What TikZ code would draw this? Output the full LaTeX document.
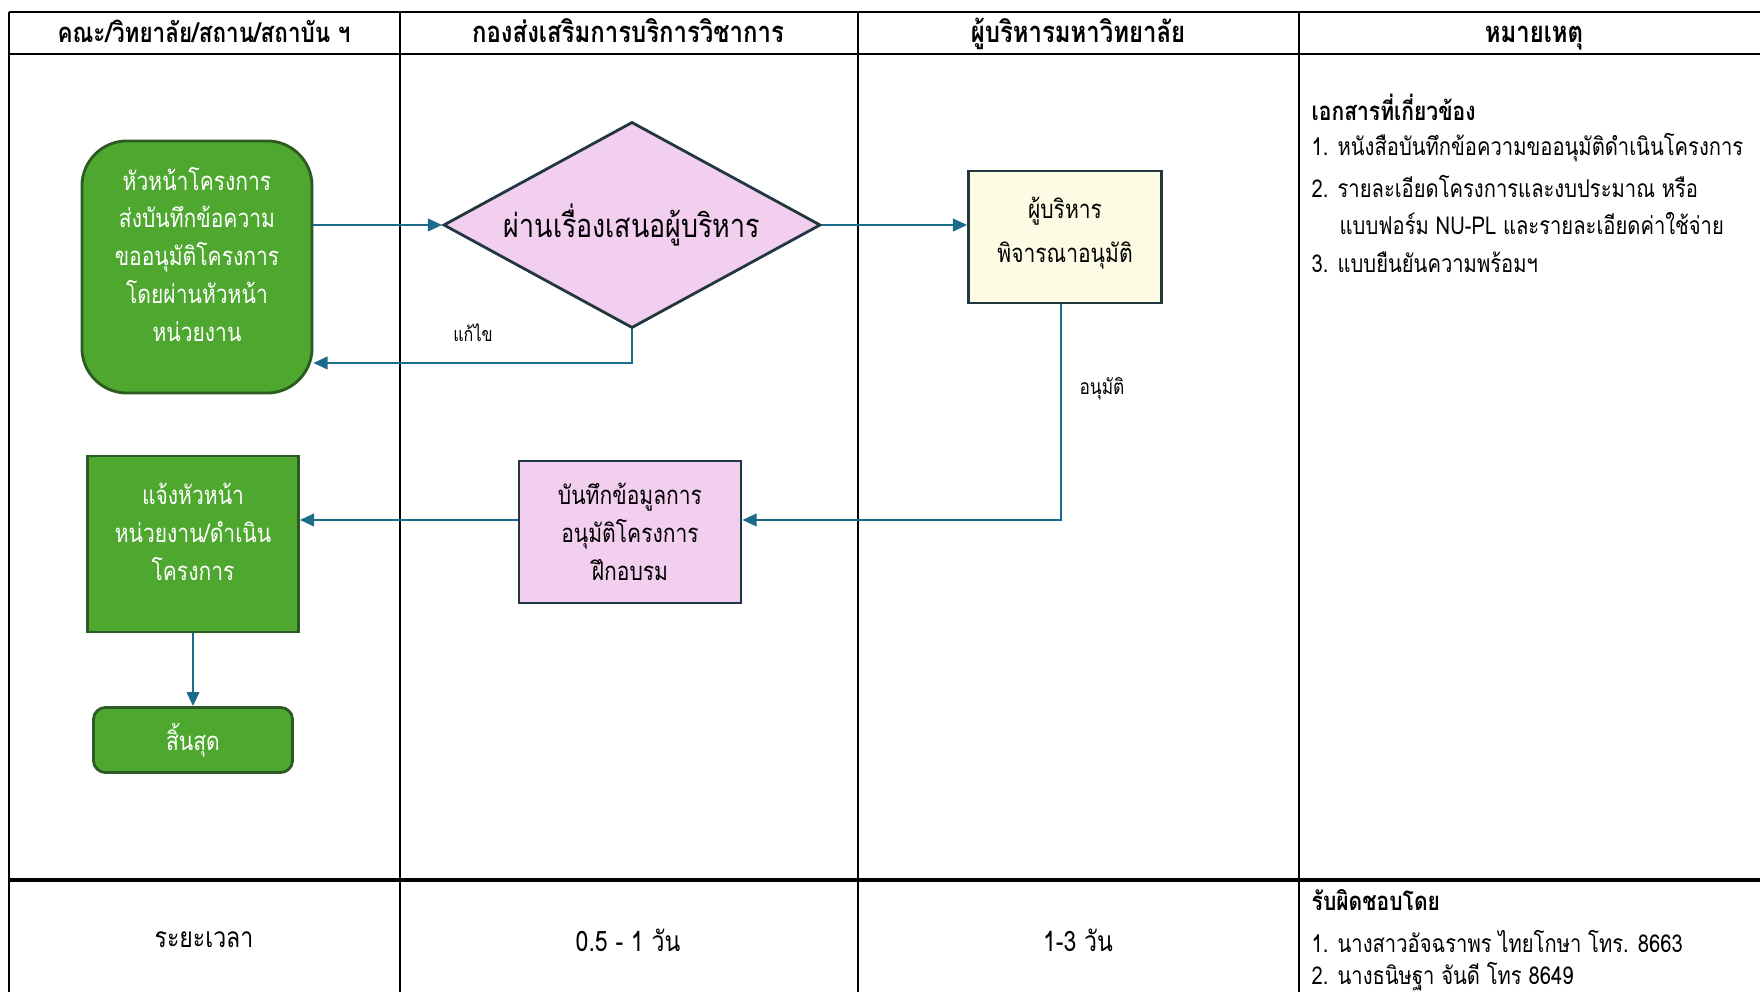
\documentclass[tikz,border=0pt]{standalone}
\usepackage{fontspec}
\setmainfont[Script=Thai, FakeStretch=0.82]{Loma}
\usepackage{xcolor}
\usetikzlibrary{shapes.geometric,arrows.meta,calc}

\definecolor{boxgreen}{HTML}{4EA72E}
\definecolor{greenline}{HTML}{2C5A22}
\definecolor{boxpink}{HTML}{F2CEEF}
\definecolor{boxyellow}{HTML}{FCFCE4}
\definecolor{boxline}{HTML}{233740}
\definecolor{flowblue}{HTML}{1C6A8C}

\begin{document}
\begin{tikzpicture}[x=0.01cm, y=-0.01cm,
    every node/.style={font=\fontsize{7.3}{10.8}\selectfont},
    greenbox/.style={draw=greenline, line width=0.8pt, fill=boxgreen, text=white, align=center, inner sep=0pt},
    colorbox/.style={draw=boxline, line width=0.8pt, align=center, inner sep=0pt},
    flow/.style={draw=flowblue, line width=0.55pt, -{Triangle[length=4pt,width=3.6pt]}},
    colhead/.style={anchor=base, font=\fontsize{8.3}{10}\selectfont\bfseries},
    head/.style={font=\fontsize{7.3}{10.8}\selectfont\bfseries},
    note/.style={anchor=west, inner sep=0pt, font=\fontsize{7}{10}\selectfont},
    span/.style={font=\fontsize{8}{10}\selectfont}]
    \useasboundingbox (0,0) rectangle (1760,992);

    % table
    \draw [line width=0.6pt] (9,12) -- (1760,12);
    \draw [line width=0.6pt] (9,54) -- (1760,54);
    \draw [line width=0.9pt] (9,880) -- (1760,880);
    \foreach \x in {9,400,858,1299}
        \draw [line width=0.4pt] (\x,12) -- (\x,992);

    \node [colhead, font=\fontsize{7.8}{10}\selectfont\bfseries] (h1) at (204,43) {คณะ/วิทยาลัย/สถาน/สถาบัน ฯ};
    \node [colhead] (h2) at (628,43) {กองส่งเสริมการบริการวิชาการ};
    \node [colhead] (h3) at (1078,43) {ผู้บริหารมหาวิทยาลัย};
    \node [colhead] (h4) at (1534,43) {หมายเหตุ};

    % flow
    \node [greenbox, rounded corners=0.45cm, minimum width=2.3cm, minimum height=2.52cm] (start) at (197,267)
        {หัวหน้าโครงการ\\ส่งบันทึกข้อความ\\ขออนุมัติโครงการ\\โดยผ่านหัวหน้า\\หน่วยงาน\\[-0.5em]};
    \node [colorbox, fill=boxpink, diamond, aspect=1.83, minimum width=3.77cm, minimum height=2.06cm,
        font=\fontsize{9.3}{11}\selectfont] (pass) at (632,225)
        {ผ่านเรื่องเสนอผู้บริหาร};
    \node [colorbox, fill=boxyellow, minimum width=1.93cm, minimum height=1.32cm] (exec) at (1065,237)
        {ผู้บริหาร\\[0.25em]พิจารณาอนุมัติ\\[-0.9em]};
    \node [colorbox, fill=boxpink, minimum width=2.22cm, minimum height=1.42cm] (record) at (630,532)
        {บันทึกข้อมูลการ\\อนุมัติโครงการ\\ฝึกอบรม};
    \node [greenbox, minimum width=2.11cm, minimum height=1.76cm] (inform) at (193,544)
        {แจ้งหัวหน้า\\หน่วยงาน/ดำเนิน\\โครงการ\\[-0.5em]};
    \node [greenbox, rounded corners=0.12cm, minimum width=1.99cm, minimum height=0.65cm] (finish) at (193,740)
        {สิ้นสุด};

    \coordinate (fix) at (632,363);
    \coordinate (ok) at (1061,520);
    \draw [flow] (start.east |- pass.west) -- (pass.west);
    \draw [flow] (pass.east) -- (exec.west |- pass.east);
    \draw [flow] (pass.south) -- (fix) -- (fix -| start.east);
    \draw [flow] (exec.south -| ok) -- (ok) -- (ok -| record.east);
    \draw [flow] (record.west |- ok) -- (ok -| inform.east);
    \draw [flow] (inform.south) -- (finish.north);

    \node [font=\fontsize{5.6}{7}\selectfont] (fixlbl) at (473,333) {แก้ไข};
    \node [font=\fontsize{6}{7}\selectfont] (oklbl) at (1102,389) {อนุมัติ};

    % notes
    \node [note, head] (docs) at (1311,107) {เอกสารที่เกี่ยวข้อง};
    \node [note] (doc1) at (1311,148) {1. หนังสือบันทึกข้อความขออนุมัติดำเนินโครงการ};
    \node [note] (doc2) at (1311,186) {2. รายละเอียดโครงการและงบประมาณ หรือ};
    \node [note] (doc2b) at (1339,224) {แบบฟอร์ม NU-PL และรายละเอียดค่าใช้จ่าย};
    \node [note] (doc3) at (1311,262) {3. แบบยืนยันความพร้อมฯ};

    % footer
    \node [span] (time) at (204,940) {ระยะเวลา};
    \node [span] (t2) at (628,940) {0.5 - 1 วัน};
    \node [span] (t3) at (1078,940) {1-3 วัน};
    \node [note, head] (resp) at (1311,900) {รับผิดชอบโดย};
    \node [note] (resp1) at (1311,941) {1. นางสาวอัจฉราพร ไทยโกษา โทร. 8663};
    \node [note] (resp2) at (1311,977) {2. นางธนิษฐา จันดี โทร 8649};
\end{tikzpicture}
\end{document}
